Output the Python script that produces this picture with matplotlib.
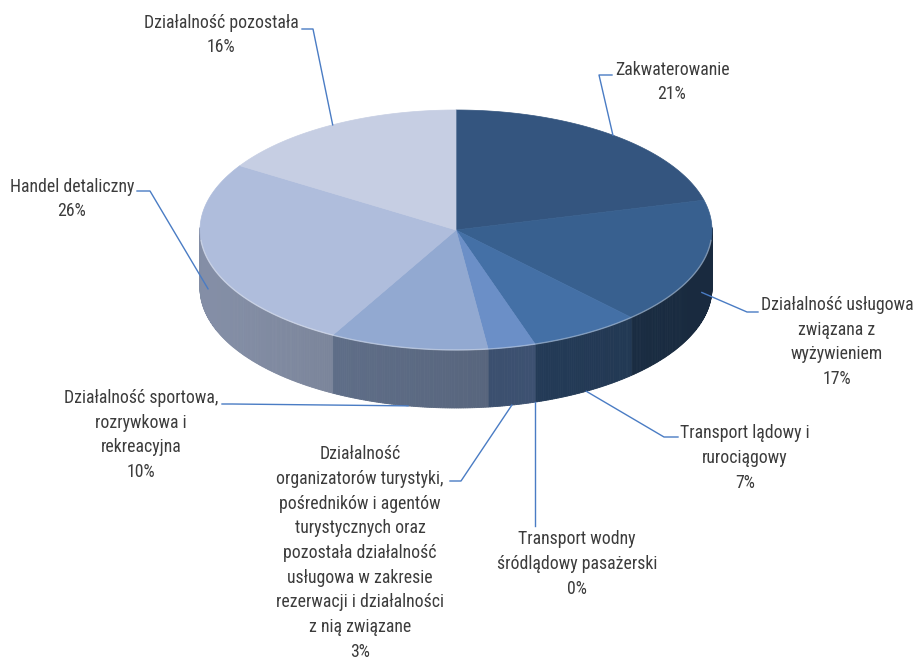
import numpy as np
import matplotlib.pyplot as plt
from matplotlib.patches import Polygon
import matplotlib.colors as mcolors

# slices, clockwise from 12 o'clock
labels = [
    'Zakwaterowanie',
    'Działalność usługowa\nzwiązana z\nwyżywieniem',
    'Transport lądowy i\nrurociągowy',
    'Transport wodny\nśródlądowy pasażerski',
    'Działalność\norganizatorów turystyki,\npośredników i agentów\nturystycznych oraz\npozostała działalność\nusługowa w zakresie\nrezerwacji i działalności\nz nią związane',
    'Działalność sportowa,\nrozrywkowa i\nrekreacyjna',
    'Handel detaliczny',
    'Działalność pozostała',
]
values = [21, 17, 7, 0, 3, 10, 26, 16]
colors = ['#34557F', '#38608F', '#4470A6', '#5A80BA', '#6B8FC7', '#92A9D1', '#AFBDDC', '#C6CEE3']

# label layout (pixels): text centre and the point where the leader meets the text
text_xy = [(672, 82), (837, 342), (745, 458), (577, 564), (360, 553), (141, 435), (72, 199), (221, 35)]
stub_xy = [((612, 75), (599, 75)), ((758, 312), (747, 312)), ((678, 437), (664, 437)),
           (None, (None, 526)), ((450, 481), (461, 481)), ((222, 404), (232, 404)),
           ((137, 191), (150, 191)), ((302, 29), (313, 29))]

cx, cy, rx, ry, depth = 456, 230, 256, 120, 58

fig = plt.figure(figsize=(9.16, 6.58), dpi=100)
ax = fig.add_axes([0, 0, 1, 1])
ax.set_xlim(0, 916)
ax.set_ylim(658, 0)
ax.axis('off')

font = ['Roboto Condensed', 'Liberation Sans Narrow', 'Roboto', 'DejaVu Sans']
text_col = '#3C3C3C'
line_col = '#4A7CC4'


def pt(a, dz=0):
    return cx + rx * np.cos(a), cy - ry * np.sin(a) + dz


fr = np.cumsum([0] + values) / sum(values)
start = np.radians(90 - 360 * fr[:-1])
end = np.radians(90 - 360 * fr[1:])

# side walls (front half only)
for i in range(len(values)):
    if values[i] == 0:
        continue
    angs = np.linspace(start[i], end[i], max(int(abs(end[i] - start[i]) / np.radians(0.5)), 2))
    base = np.array(mcolors.to_rgb(colors[i]))
    n = len(angs)
    for k in range(n - 1):
        am = 0.5 * (angs[k] + angs[k + 1])
        if np.sin(am) > 0.02:
            continue
        shade = 0.62 - 0.17 * np.cos(am)
        shade *= 1.0 - 0.08 * k / n
        c = np.clip(base * shade, 0, 1)
        p = [pt(angs[k]), pt(angs[k + 1]), pt(angs[k + 1], depth), pt(angs[k], depth)]
        ax.add_patch(Polygon(p, closed=True, facecolor=c, edgecolor=c, lw=0.6))

# top faces
for i in range(len(values)):
    if values[i] == 0:
        continue
    angs = np.linspace(start[i], end[i], 100)
    p = [(cx, cy)] + [pt(a) for a in angs]
    ax.add_patch(Polygon(p, closed=True, facecolor=colors[i], edgecolor=colors[i], lw=0.5))

# soft highlight along the front rim
rim = np.linspace(np.radians(-175), np.radians(-5), 200)
ax.plot([pt(a)[0] for a in rim], [pt(a)[1] for a in rim], color='white', alpha=0.35, lw=1)

# labels and leader lines
for i in range(len(values)):
    mid = 0.5 * (start[i] + end[i])
    ex, ey = pt(mid)
    if np.sin(mid) < 0:
        ey += depth if abs(np.sin(mid)) > 0.6 else depth * 0.5
    s0, s1 = stub_xy[i]
    if s0 is None:
        ax.plot([ex, ex], [s1[1], ey], color=line_col, lw=1)
    else:
        ax.plot([s0[0], s1[0], ex], [s0[1], s1[1], ey], color=line_col, lw=1)
    tx, ty = text_xy[i]
    ax.text(tx, ty, f'{labels[i]}\n{values[i]}%', ha='center', va='center',
            fontsize=12.8, color=text_col, family=font, linespacing=1.48)

fig.savefig('out.png', dpi=100)
